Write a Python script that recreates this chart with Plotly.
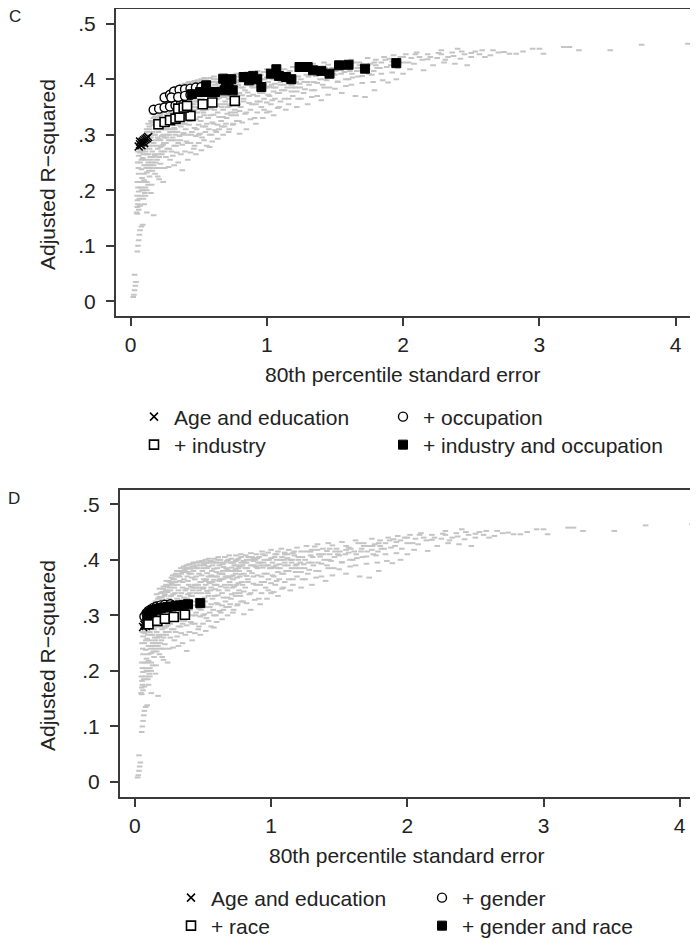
import plotly.graph_objects as go

# The page body keeps its default 8px margin, so the figure is drawn 8px in
# from the window corner; it is sized so that it ends at the window edges.
WIN_W, WIN_H, OFF = 698, 939, 8
W, H = WIN_W - OFF, WIN_H - OFF
FONT = "Liberation Sans, Arial, sans-serif"

# ---------------- data ----------------
# grey background cloud (all specifications), identical in both panels
cloud_points = [
    (0.02, 0.008), (0.025, 0.012), (0.03, 0.02), (0.035, 0.028), (0.04, 0.035), (0.03, 0.048),
    (0.05, 0.09), (0.055, 0.10), (0.06, 0.11), (0.065, 0.12), (0.07, 0.128), (0.08, 0.135), (0.09, 0.138),
    (0.05, 0.158), (0.06, 0.165), (0.055, 0.175), (0.07, 0.172), (0.065, 0.185), (0.08, 0.19), (0.06, 0.198),
    (0.075, 0.205), (0.09, 0.2), (0.07, 0.215), (0.085, 0.222), (0.1, 0.218), (0.06, 0.23), (0.08, 0.238),
    (0.1, 0.245), (0.07, 0.25), (0.09, 0.258), (0.06, 0.262),
    (0.11, 0.19), (0.12, 0.2), (0.13, 0.21), (0.15, 0.195), (0.14, 0.225), (0.12, 0.232), (0.16, 0.235),
    (0.11, 0.27), (0.13, 0.25), (0.15, 0.255), (0.17, 0.245), (0.12, 0.265), (0.14, 0.275), (0.16, 0.27),
    (0.18, 0.262), (0.11, 0.285), (0.13, 0.29), (0.15, 0.295), (0.17, 0.285), (0.19, 0.28), (0.12, 0.305),
    (0.14, 0.31), (0.16, 0.305), (0.18, 0.3), (0.2, 0.295), (0.13, 0.32), (0.15, 0.325), (0.17, 0.318),
    (0.19, 0.315), (0.16, 0.338), (0.18, 0.333), (0.2, 0.328), (0.18, 0.348), (0.2, 0.342), (0.17, 0.155),
    (0.12, 0.16), (0.2, 0.225), (0.19, 0.24),
    (0.21, 0.22), (0.24, 0.215), (0.22, 0.248), (0.25, 0.24), (0.28, 0.242), (0.21, 0.26), (0.23, 0.265),
    (0.26, 0.26), (0.29, 0.255), (0.22, 0.278), (0.24, 0.282), (0.27, 0.275), (0.3, 0.27), (0.21, 0.292),
    (0.23, 0.298), (0.25, 0.295), (0.28, 0.29), (0.22, 0.31), (0.24, 0.315), (0.26, 0.31), (0.29, 0.305),
    (0.23, 0.325), (0.25, 0.33), (0.27, 0.325), (0.3, 0.32), (0.22, 0.338), (0.24, 0.342), (0.26, 0.345),
    (0.28, 0.338), (0.21, 0.352), (0.25, 0.355), (0.27, 0.358), (0.29, 0.35), (0.23, 0.362), (0.28, 0.365),
    (0.3, 0.36),
    (0.32, 0.245), (0.38, 0.236), (0.35, 0.25), (0.42, 0.255), (0.31, 0.262), (0.34, 0.268), (0.37, 0.265),
    (0.4, 0.27), (0.44, 0.268), (0.32, 0.28), (0.35, 0.285), (0.38, 0.282), (0.41, 0.288), (0.44, 0.285),
    (0.31, 0.295), (0.33, 0.3), (0.36, 0.298), (0.39, 0.303), (0.42, 0.3), (0.45, 0.305), (0.32, 0.312),
    (0.34, 0.318), (0.37, 0.315), (0.4, 0.32), (0.43, 0.318), (0.31, 0.33), (0.33, 0.335), (0.36, 0.332),
    (0.39, 0.338), (0.42, 0.335), (0.45, 0.34), (0.32, 0.345), (0.35, 0.35), (0.38, 0.348), (0.41, 0.352),
    (0.44, 0.355), (0.33, 0.362), (0.36, 0.365), (0.39, 0.362), (0.42, 0.368), (0.45, 0.37), (0.34, 0.375),
    (0.37, 0.378), (0.4, 0.375), (0.43, 0.38), (0.38, 0.385), (0.42, 0.388), (0.45, 0.385),
    (0.48, 0.265), (0.52, 0.272), (0.58, 0.278), (0.47, 0.28), (0.5, 0.285), (0.54, 0.29), (0.6, 0.288),
    (0.64, 0.293), (0.48, 0.298), (0.51, 0.302), (0.55, 0.305), (0.58, 0.3), (0.62, 0.308), (0.47, 0.312),
    (0.5, 0.318), (0.53, 0.315), (0.56, 0.32), (0.6, 0.322), (0.64, 0.318), (0.48, 0.328), (0.51, 0.332),
    (0.54, 0.335), (0.57, 0.33), (0.61, 0.336), (0.65, 0.332), (0.47, 0.345), (0.5, 0.348), (0.53, 0.344),
    (0.56, 0.35), (0.59, 0.347), (0.63, 0.352), (0.48, 0.36), (0.52, 0.362), (0.55, 0.358), (0.58, 0.364),
    (0.62, 0.362), (0.65, 0.366), (0.49, 0.372), (0.53, 0.376), (0.56, 0.372), (0.6, 0.378), (0.64, 0.375),
    (0.5, 0.385), (0.54, 0.388), (0.58, 0.384), (0.62, 0.39), (0.65, 0.387), (0.52, 0.395), (0.57, 0.397),
    (0.61, 0.4),
    (0.68, 0.3), (0.72, 0.305), (0.8, 0.302), (0.85, 0.31), (0.67, 0.315), (0.7, 0.32), (0.75, 0.318),
    (0.78, 0.325), (0.82, 0.322), (0.88, 0.328), (0.68, 0.332), (0.71, 0.338), (0.74, 0.335), (0.77, 0.34),
    (0.8, 0.343), (0.84, 0.338), (0.88, 0.345), (0.67, 0.35), (0.7, 0.355), (0.73, 0.352), (0.76, 0.358),
    (0.79, 0.355), (0.83, 0.36), (0.87, 0.357), (0.69, 0.368), (0.72, 0.372), (0.75, 0.368), (0.78, 0.374),
    (0.82, 0.371), (0.86, 0.376), (0.9, 0.372), (0.68, 0.382), (0.71, 0.386), (0.74, 0.383), (0.77, 0.388),
    (0.81, 0.385), (0.85, 0.39), (0.89, 0.387), (0.7, 0.395), (0.74, 0.398), (0.78, 0.395), (0.82, 0.4),
    (0.87, 0.398), (0.9, 0.403),
    (0.92, 0.32), (0.97, 0.33), (1.05, 0.335), (0.93, 0.34), (0.98, 0.345), (1.02, 0.342), (1.08, 0.348),
    (1.14, 0.345), (0.92, 0.355), (0.95, 0.36), (1.0, 0.358), (1.04, 0.362), (1.1, 0.36), (1.16, 0.365),
    (0.93, 0.37), (0.97, 0.375), (1.01, 0.372), (1.05, 0.378), (1.09, 0.375), (1.13, 0.38), (1.18, 0.378),
    (0.94, 0.386), (0.98, 0.39), (1.02, 0.387), (1.06, 0.392), (1.1, 0.39), (1.15, 0.395), (1.19, 0.392),
    (0.95, 0.4), (1.0, 0.403), (1.04, 0.4), (1.08, 0.405), (1.12, 0.403), (1.17, 0.408), (1.2, 0.405),
    (1.03, 0.41), (1.1, 0.413),
    (1.22, 0.35), (1.3, 0.355), (1.4, 0.362), (1.25, 0.365), (1.33, 0.368), (1.45, 0.372), (1.55, 0.375),
    (1.22, 0.378), (1.28, 0.382), (1.35, 0.38), (1.42, 0.385), (1.5, 0.383), (1.58, 0.388), (1.24, 0.392),
    (1.3, 0.395), (1.37, 0.393), (1.44, 0.398), (1.52, 0.396), (1.6, 0.4), (1.23, 0.405), (1.29, 0.408),
    (1.36, 0.406), (1.43, 0.41), (1.5, 0.408), (1.57, 0.413), (1.26, 0.415), (1.34, 0.418), (1.41, 0.416),
    (1.48, 0.42), (1.55, 0.418), (1.32, 0.424), (1.45, 0.426),
    (1.65, 0.37), (1.72, 0.368), (1.79, 0.38), (1.89, 0.394), (1.62, 0.39), (1.7, 0.393), (1.78, 0.395),
    (1.85, 0.398), (1.95, 0.4), (1.63, 0.403), (1.7, 0.406), (1.77, 0.408), (1.84, 0.41), (1.92, 0.412),
    (2.0, 0.41), (1.66, 0.415), (1.74, 0.418), (1.81, 0.42), (1.88, 0.422), (1.96, 0.42), (2.05, 0.418),
    (1.68, 0.425), (1.76, 0.428), (1.84, 0.43), (1.92, 0.432), (2.0, 0.43), (2.08, 0.428), (2.15, 0.416),
    (1.8, 0.435), (1.9, 0.437), (1.98, 0.44), (2.06, 0.438), (2.12, 0.44), (2.18, 0.436),
    (2.22, 0.425), (2.3, 0.43), (2.38, 0.428), (2.25, 0.438), (2.33, 0.44), (2.42, 0.437), (2.5, 0.44),
    (2.28, 0.445), (2.36, 0.448), (2.45, 0.445), (2.53, 0.45), (2.47, 0.425), (2.6, 0.44), (2.64, 0.443),
    (2.7, 0.448), (2.58, 0.452), (2.78, 0.446), (2.83, 0.446), (2.88, 0.45), (2.95, 0.455), (3.0, 0.455),
    (3.03, 0.446),
    (3.18, 0.458), (3.22, 0.458), (3.29, 0.452), (3.52, 0.452), (3.75, 0.462), (4.09, 0.464),
    (0.045, 0.16), (0.05, 0.17), (0.052, 0.182), (0.048, 0.19), (0.055, 0.205), (0.05, 0.215), (0.058, 0.24),
    (0.052, 0.25), (0.055, 0.27), (0.06, 0.275), (0.065, 0.28), (0.07, 0.268), (0.075, 0.275), (0.08, 0.255),
    (0.085, 0.27), (0.09, 0.28), (0.095, 0.265), (0.1, 0.29), (0.105, 0.275), (0.11, 0.255), (0.115, 0.24),
    (0.1, 0.23), (0.09, 0.215), (0.085, 0.2), (0.095, 0.185), (0.1, 0.175), (0.11, 0.205), (0.105, 0.195),
    (0.12, 0.215), (0.125, 0.245), (0.13, 0.265), (0.135, 0.28), (0.14, 0.295), (0.145, 0.26), (0.15, 0.24),
    (0.155, 0.21), (0.16, 0.25), (0.165, 0.28), (0.17, 0.3), (0.175, 0.265), (0.18, 0.23), (0.185, 0.29),
    (0.19, 0.31), (0.195, 0.255), (0.2, 0.275), (0.205, 0.305), (0.21, 0.24), (0.215, 0.32), (0.22, 0.29),
    (0.225, 0.345), (0.23, 0.28), (0.235, 0.31), (0.24, 0.3), (0.245, 0.325), (0.25, 0.27), (0.255, 0.35),
    (0.26, 0.285), (0.265, 0.335), (0.27, 0.3), (0.275, 0.31), (0.28, 0.355), (0.285, 0.275), (0.29, 0.325),
    (0.295, 0.34), (0.3, 0.29), (0.305, 0.37), (0.31, 0.31), (0.315, 0.355), (0.32, 0.325), (0.325, 0.29),
    (0.33, 0.37), (0.335, 0.28), (0.34, 0.34), (0.345, 0.305), (0.35, 0.36), (0.355, 0.32), (0.36, 0.38),
    (0.365, 0.29), (0.37, 0.345), (0.375, 0.33), (0.38, 0.3), (0.385, 0.37), (0.39, 0.32), (0.395, 0.355),
    (0.4, 0.385), (0.405, 0.31), (0.41, 0.335), (0.415, 0.375), (0.42, 0.285), (0.425, 0.35), (0.43, 0.395),
    (0.435, 0.325), (0.44, 0.365), (0.445, 0.3), (0.45, 0.355), (0.455, 0.39), (0.46, 0.33), (0.465, 0.275),
    (0.47, 0.375), (0.475, 0.35), (0.48, 0.395), (0.485, 0.31), (0.49, 0.34), (0.495, 0.38), (0.5, 0.3),
    (0.505, 0.365), (0.51, 0.39), (0.515, 0.325), (0.52, 0.355), (0.525, 0.295), (0.53, 0.385), (0.535, 0.34),
    (0.54, 0.37), (0.545, 0.395), (0.55, 0.315), (0.555, 0.345), (0.56, 0.28), (0.565, 0.38), (0.57, 0.36),
    (0.575, 0.31), (0.58, 0.395), (0.585, 0.335), (0.59, 0.37), (0.595, 0.3), (0.6, 0.355), (0.605, 0.385),
    (0.61, 0.32), (0.615, 0.345), (0.62, 0.375), (0.625, 0.395), (0.63, 0.305), (0.635, 0.365), (0.64, 0.34),
    (0.645, 0.38), (0.65, 0.31), (0.655, 0.395), (0.66, 0.355), (0.665, 0.325), (0.67, 0.385), (0.675, 0.37),
    (0.68, 0.345), (0.685, 0.4), (0.69, 0.315), (0.695, 0.36), (0.7, 0.38), (0.705, 0.33), (0.71, 0.395),
    (0.715, 0.35), (0.72, 0.365), (0.725, 0.31), (0.73, 0.39), (0.735, 0.34), (0.74, 0.375), (0.745, 0.355),
    (0.75, 0.4), (0.755, 0.32), (0.76, 0.385), (0.765, 0.345), (0.77, 0.37), (0.775, 0.335), (0.78, 0.405),
    (0.785, 0.36), (0.79, 0.39), (0.795, 0.325), (0.8, 0.375), (0.81, 0.35), (0.82, 0.395), (0.83, 0.365),
    (0.84, 0.38), (0.85, 0.34), (0.86, 0.405), (0.87, 0.37), (0.88, 0.39), (0.89, 0.355), (0.9, 0.385),
    (0.91, 0.33), (0.92, 0.395), (0.93, 0.36), (0.94, 0.41), (0.95, 0.375), (0.96, 0.35), (0.97, 0.4),
    (0.98, 0.365), (0.99, 0.385), (1.0, 0.34), (1.01, 0.395), (1.02, 0.37), (1.03, 0.355), (1.04, 0.41),
    (1.05, 0.385), (1.06, 0.365), (1.07, 0.4), (1.08, 0.375), (1.09, 0.35), (1.1, 0.395), (1.11, 0.38),
    (1.12, 0.41), (1.13, 0.365), (1.14, 0.4), (1.15, 0.385), (1.16, 0.355), (1.17, 0.415), (1.18, 0.39),
    (1.19, 0.37), (1.2, 0.4), (1.21, 0.385), (1.23, 0.365), (1.25, 0.4), (1.27, 0.375), (1.29, 0.415),
    (1.31, 0.39), (1.33, 0.38), (1.35, 0.41), (1.37, 0.37), (1.39, 0.4), (1.41, 0.39), (1.43, 0.42),
    (1.46, 0.385), (1.49, 0.41), (1.52, 0.395), (1.55, 0.425), (1.58, 0.4), (1.61, 0.415), (1.64, 0.43),
    (1.67, 0.405), (1.71, 0.425), (1.75, 0.41), (1.79, 0.43), (1.83, 0.42), (1.87, 0.435), (1.91, 0.425),
    (1.95, 0.435), (2.0, 0.44), (2.04, 0.43), (2.09, 0.445), (2.14, 0.435), (2.2, 0.44), (2.26, 0.447),
    (2.31, 0.435), (2.37, 0.442), (2.43, 0.45), (2.5, 0.447), (2.56, 0.445), (2.66, 0.452), (2.74, 0.449),
    (0.062, 0.285), (0.078, 0.292), (0.092, 0.296), (0.108, 0.3), (0.118, 0.31), (0.128, 0.3), (0.138, 0.315),
    (0.148, 0.305), (0.158, 0.322), (0.168, 0.33), (0.178, 0.318), (0.188, 0.34), (0.198, 0.332), (0.208, 0.348),
    (0.218, 0.335), (0.228, 0.355), (0.238, 0.352), (0.248, 0.362), (0.258, 0.36), (0.268, 0.368),
    (0.278, 0.372), (0.288, 0.365), (0.298, 0.375), (0.308, 0.38), (0.318, 0.372), (0.328, 0.38),
    (0.338, 0.385), (0.348, 0.378), (0.358, 0.388), (0.368, 0.382), (0.378, 0.39), (0.388, 0.378),
    (0.398, 0.392), (0.41, 0.384), (0.422, 0.393), (0.434, 0.388), (0.446, 0.395), (0.458, 0.385),
    (0.47, 0.397), (0.482, 0.39), (0.494, 0.398), (0.506, 0.392), (0.518, 0.4), (0.53, 0.395), (0.542, 0.402),
    (0.556, 0.398), (0.57, 0.39), (0.584, 0.402), (0.598, 0.395), (0.612, 0.405), (0.628, 0.4), (0.644, 0.392),
    (0.66, 0.405), (0.676, 0.398), (0.692, 0.408), (0.708, 0.402), (0.724, 0.395), (0.742, 0.408),
    (0.76, 0.402), (0.778, 0.41), (0.796, 0.398), (0.814, 0.408), (0.832, 0.405), (0.852, 0.412),
    (0.872, 0.402), (0.892, 0.41), (0.912, 0.405), (0.934, 0.415), (0.956, 0.408), (0.978, 0.413),
    (1.0, 0.418), (1.025, 0.405), (1.05, 0.415), (1.075, 0.42), (1.1, 0.41), (1.13, 0.418), (1.16, 0.412),
    (1.19, 0.422), (1.22, 0.415), (1.26, 0.425), (1.3, 0.418), (1.34, 0.428), (1.38, 0.42), (1.42, 0.43),
    (1.47, 0.415), (1.52, 0.432), (1.57, 0.422), (1.62, 0.435), (1.68, 0.43), (1.74, 0.438), (1.8, 0.425),
    (1.86, 0.44), (1.93, 0.443), (2.02, 0.445), (2.1, 0.448), (2.18, 0.445), (2.28, 0.452), (2.4, 0.455),
    (0.135, 0.235), (0.145, 0.245), (0.165, 0.26), (0.185, 0.25), (0.205, 0.265), (0.225, 0.27),
    (0.245, 0.285), (0.265, 0.295), (0.285, 0.3), (0.305, 0.305), (0.325, 0.31), (0.345, 0.32),
    (0.365, 0.325), (0.385, 0.33), (0.405, 0.34), (0.425, 0.345), (0.445, 0.35), (0.465, 0.355),
    (0.485, 0.36), (0.505, 0.35), (0.525, 0.365), (0.545, 0.36), (0.565, 0.37), (0.585, 0.355),
    (0.605, 0.37), (0.625, 0.365), (0.645, 0.375), (0.665, 0.37), (0.685, 0.38), (0.705, 0.37),
    (0.725, 0.38), (0.745, 0.39), (0.765, 0.38), (0.785, 0.39), (0.805, 0.395), (0.825, 0.385),
    (0.845, 0.4), (0.865, 0.39), (0.885, 0.4), (0.905, 0.395), (0.925, 0.39), (0.945, 0.395),
    (0.965, 0.39), (0.985, 0.4), (1.005, 0.385), (1.035, 0.39), (1.065, 0.385), (1.095, 0.4),
    (1.125, 0.39), (1.155, 0.4), (1.185, 0.385), (1.215, 0.395), (1.245, 0.385), (1.275, 0.395),
    (1.305, 0.405), (1.345, 0.395), (1.385, 0.41), (1.425, 0.4), (1.465, 0.405), (1.505, 0.415),
    (1.545, 0.41), (1.585, 0.42), (1.625, 0.41), (1.665, 0.42), (1.705, 0.415), (1.745, 0.425),
    (1.785, 0.415),
]
cloud_x = [p[0] for p in cloud_points]
cloud_y = [p[1] for p in cloud_points]

# Panel C
c_age_x = [0.06, 0.07, 0.08, 0.09, 0.10, 0.11, 0.12, 0.08, 0.10, 0.13, 0.07]
c_age_y = [0.279, 0.283, 0.286, 0.288, 0.290, 0.292, 0.294, 0.281, 0.285, 0.296, 0.288]
c_occ_x = [0.17, 0.21, 0.25, 0.29, 0.33, 0.37, 0.25, 0.29, 0.32, 0.36, 0.40, 0.44, 0.48, 0.52, 0.30, 0.35, 0.40, 0.44]
c_occ_y = [0.345, 0.347, 0.349, 0.351, 0.353, 0.355, 0.367, 0.372, 0.378, 0.381, 0.382, 0.383, 0.385, 0.386,
           0.367, 0.368, 0.370, 0.372]
c_ind_x = [0.205, 0.25, 0.29, 0.33, 0.36, 0.44, 0.35, 0.39, 0.415, 0.53, 0.60, 0.765]
c_ind_y = [0.319, 0.323, 0.326, 0.329, 0.332, 0.334, 0.347, 0.349, 0.352, 0.355, 0.358, 0.361]
c_both_x = [0.45, 0.51, 0.555, 0.56, 0.62, 0.68, 0.69, 0.70, 0.72, 0.75, 0.74, 0.83, 0.87, 0.90, 0.93, 0.96,
            1.03, 1.07, 1.09, 1.14, 1.18, 1.24, 1.30, 1.34, 1.40, 1.46, 1.53, 1.60, 1.72, 1.95]
c_both_y = [0.373, 0.377, 0.389, 0.377, 0.377, 0.401, 0.380, 0.395, 0.383, 0.380, 0.400, 0.404, 0.398, 0.406,
            0.400, 0.386, 0.410, 0.418, 0.406, 0.404, 0.400, 0.422, 0.422, 0.416, 0.415, 0.410, 0.425, 0.426,
            0.419, 0.429]

# Panel D
d_age_x = c_age_x
d_age_y = c_age_y
d_gen_x = [0.07, 0.085, 0.10, 0.12, 0.14, 0.16, 0.19, 0.22, 0.26]
d_gen_y = [0.298, 0.304, 0.308, 0.311, 0.314, 0.316, 0.318, 0.319, 0.320]
d_race_x = [0.10, 0.165, 0.22, 0.285, 0.367]
d_race_y = [0.284, 0.290, 0.294, 0.297, 0.301]
d_both_x = [0.09, 0.11, 0.13, 0.15, 0.17, 0.19, 0.21, 0.24, 0.27, 0.30, 0.33, 0.36, 0.39, 0.48]
d_both_y = [0.300, 0.305, 0.308, 0.310, 0.312, 0.313, 0.314, 0.315, 0.316, 0.317, 0.318, 0.319, 0.320, 0.322]

y_tickvals = [0, 0.1, 0.2, 0.3, 0.4, 0.5]
y_ticktext = ["0", ".1", ".2", ".3", ".4", ".5"]
x_tickvals = [0, 1, 2, 3, 4]
x_ticktext = ["0", "1", "2", "3", "4"]

legend_c = ["Age and education", "+ occupation", "+ industry", "+ industry and occupation"]
legend_d = ["Age and education", "+ gender", "+ race", "+ gender and race"]

# ---------------- styles ----------------
GREY = "#c4c4c4"
AX = "#3a3a3a"
cloud_marker = dict(symbol="line-ew", size=4, line=dict(width=2, color=GREY))
x_marker = dict(symbol="x-thin", size=8, color="black", line=dict(width=1.5, color="black"))
o_marker = dict(symbol="circle", size=9, color="white", line=dict(width=1.4, color="black"))
s_marker = dict(symbol="square", size=9, color="white", line=dict(width=1.6, color="black"))
b_marker = dict(symbol="square", size=9, color="black", line=dict(width=1, color="black"))

fig = go.Figure()

def panel(xa, ya, names, sets, legs):
    fig.add_trace(go.Scatter(x=cloud_x, y=cloud_y, mode="markers", marker=cloud_marker,
                             xaxis=xa, yaxis=ya, showlegend=False, hoverinfo="skip"))
    markers = [x_marker, o_marker, s_marker, b_marker]
    for (xs, ys), nm, mk, lg in zip(sets, names, markers, legs):
        fig.add_trace(go.Scatter(x=xs, y=ys, mode="markers", marker=mk, name=nm,
                                 xaxis=xa, yaxis=ya, legend=lg))

panel("x", "y", legend_c,
      [(c_age_x, c_age_y), (c_occ_x, c_occ_y), (c_ind_x, c_ind_y), (c_both_x, c_both_y)],
      ["legend", "legend2", "legend3", "legend4"])
panel("x2", "y2", legend_d,
      [(d_age_x, d_age_y), (d_gen_x, d_gen_y), (d_race_x, d_race_y), (d_both_x, d_both_y)],
      ["legend5", "legend6", "legend7", "legend8"])

# window pixel -> paper fraction
def px(v):
    return (v - OFF) / W

def py(v):
    return 1 - (v - OFF) / H

def xaxis(domain, rng, anchor):
    return dict(domain=domain, range=rng, anchor=anchor, tickvals=x_tickvals, ticktext=x_ticktext,
                showline=True, mirror=True, linecolor=AX, linewidth=2, ticks="outside",
                ticklen=8, tickwidth=1.5, tickcolor=AX, showgrid=False, zeroline=False,
                automargin=False, tickfont=dict(family=FONT, size=21, color="#222"))

def yaxis(domain, rng, anchor):
    return dict(domain=domain, range=rng, anchor=anchor, tickvals=y_tickvals, ticktext=y_ticktext,
                showline=True, mirror=False, linecolor=AX, linewidth=2, ticks="outside",
                ticklen=8, tickwidth=1.5, tickcolor=AX, showgrid=False, zeroline=False,
                automargin=False, ticklabelstandoff=6,
                tickfont=dict(family=FONT, size=21, color="#222"))

def legend(x0, yc):
    return dict(orientation="h", x=px(x0), xanchor="left", y=py(yc), yanchor="middle",
                bgcolor="rgba(0,0,0,0)", font=dict(family=FONT, size=21, color="#222"),
                itemclick=False)

fig.update_layout(
    width=W, height=H, margin=dict(l=0, r=0, t=0, b=0, autoexpand=False),
    paper_bgcolor="white", plot_bgcolor="white",
    xaxis=xaxis([px(116), 1], [-0.1064, 4.1636], "y"),
    yaxis=yaxis([py(316.3), py(9)], [-0.0268, 0.5264], "x"),
    xaxis2=xaxis([px(120), 1], [-0.1094, 4.1344], "y2"),
    yaxis2=yaxis([py(797.3), py(490.3)], [-0.0276, 0.5252], "x2"),
    legend=legend(134, 417),
    legend2=legend(383, 417),
    legend3=legend(134, 445),
    legend4=legend(383, 445),
    legend5=legend(171, 898),
    legend6=legend(422, 898),
    legend7=legend(171, 926),
    legend8=legend(422, 926),
)

ann = []
def text(x, y, s, size=21, angle=0):
    ann.append(dict(x=px(x), y=py(y), xref="paper", yref="paper", text=s, showarrow=False,
                    xanchor="center", yanchor="middle", textangle=angle,
                    font=dict(family=FONT, size=size, color="#222")))

text(15, 17, "C", size=17)
text(14, 498, "D", size=17)
text(47, 175, "Adjusted R−squared", angle=-90)
text(47, 656, "Adjusted R−squared", angle=-90)
text(403, 374, "80th percentile standard error")
text(407, 855, "80th percentile standard error")
fig.update_layout(annotations=ann)

fig.write_html("out.html")
